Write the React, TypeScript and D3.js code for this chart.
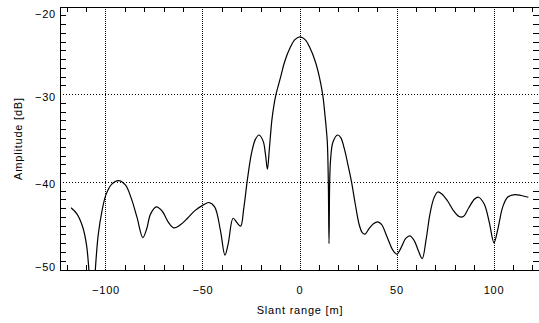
import * as d3 from 'd3';

// Slant range [m] and amplitude [dB] samples of the impulse response
const slantRange = [
  -118, -115, -112, -110, -108.8, -107.5, -106.5, -105.5, -104, -102, -100, -97, -93.5, -90, -87, -84, -81,
  -79, -77, -74, -71, -68, -65, -62, -58, -54, -50, -47, -44, -41, -38.7, -37, -34.5, -32.5, -30.6, -29,
  -27, -25, -23, -21.1, -19, -17.8, -16.8, -15.8, -14.5, -13.5, -12.4, -10, -8, -5, -2.5, 0, 2.5, 5, 8, 10,
  11.7, 12.5, 13.3, 14.1, 14.6, 14.95, 15.3, 15.8, 17, 19.4, 21, 23, 25, 26.6, 28.5, 30.6, 32, 33.5, 35.5,
  38, 40, 42, 45, 48, 50, 52, 54.5, 56.7, 59, 61, 63, 65, 67, 69, 71, 73, 76, 79, 82, 84.2, 87, 90, 92, 95,
  97.5, 100, 102, 104.5, 107, 110.8, 114, 117.7,
];
const amplitude = [
  -42.9, -43.6, -45.1, -47.2, -50, -54, -54, -50, -46, -43.2, -41.4, -40.2, -39.8, -40.3, -41.8, -44, -46.3,
  -45.3, -43.6, -42.8, -43.3, -44.5, -45.2, -44.9, -44.1, -43.2, -42.6, -42.3, -42.8, -45.5, -48.3, -47, -44.1,
  -44.6, -45, -43, -39.5, -36.7, -35.1, -34.6, -35.3, -36.8, -38.5, -36.2, -32.9, -31.3, -30, -28, -26.3, -24.6,
  -23.7, -23.4, -23.7, -24.6, -26.3, -28, -30, -31.5, -33.3, -35.5, -40, -47, -40, -37.3, -35.4, -34.6, -34.9,
  -36.3, -38.3, -40, -42.5, -44.9, -45.7, -45.9, -45.3, -44.7, -44.5, -44.8, -46.3, -47.8, -48.2, -47.5, -46.4,
  -46.1, -46.7, -47.8, -48.7, -46.5, -43.6, -41.8, -41.1, -41.3, -42.1, -43.2, -43.9, -43.9, -42.9, -41.9,
  -41.7, -42.5, -44.5, -46.9, -45.3, -42.8, -41.7, -41.4, -41.5, -41.7,
];

const xGrid = [-100, -50, 0, 50, 100];
const xTickLabels = ['\u2212100', '\u221250', '0', '50', '100'];
const yTicks = [-50, -40, -30, -20];
const yTickLabels = ['\u221250', '\u221240', '\u221230', '\u221220'];
const yGrid = [-40, -30];

const W = 539;
const H = 323;
const m = { left: 60, right: 540, top: 7, bottom: 270 };
const font = '"Liberation Sans", Arial, sans-serif';

export default function App() {
  const x = d3.scaleLinear().domain([-123.7, 123.7]).range([m.left, m.right]);
  const y = d3.scaleLinear().domain([-50, -20]).range([m.bottom, m.top]);

  const pts = slantRange.map((r, i) => [r, amplitude[i]] as [number, number]);
  const line = d3
    .line<[number, number]>()
    .x(d => x(d[0]))
    .y(d => y(d[1]))
    .curve(d3.curveCatmullRom.alpha(0.5));

  const xMinor = d3.range(-120, 121, 10).filter(v => v % 50 !== 0);
  const yMinor = d3.range(-49, -20, 1).filter(v => v % 10 !== 0);

  return (
    <div style={{ position: 'absolute', left: 0, top: 0, width: W, height: H, background: '#fff' }}>
      <svg width={W} height={H} style={{ display: 'block' }}>
        <defs>
          <clipPath id="plot">
            <rect x={m.left} y={m.top} width={m.right - m.left} height={m.bottom - m.top} />
          </clipPath>
        </defs>

        {/* grid */}
        {xGrid.map(v => (
          <line key={'gx' + v} x1={x(v)} x2={x(v)} y1={m.top} y2={m.bottom}
            stroke="#000" strokeWidth={1} strokeDasharray="1,1" shapeRendering="crispEdges" />
        ))}
        {yGrid.map(v => (
          <line key={'gy' + v} x1={m.left} x2={m.right} y1={y(v)} y2={y(v)}
            stroke="#000" strokeWidth={1} strokeDasharray="1,2" shapeRendering="crispEdges" />
        ))}

        {/* minor ticks */}
        {xMinor.map(v => (
          <g key={'tx' + v}>
            <line x1={x(v)} x2={x(v)} y1={m.bottom} y2={m.bottom - 5} stroke="#000" shapeRendering="crispEdges" />
            <line x1={x(v)} x2={x(v)} y1={m.top} y2={m.top + 5} stroke="#000" shapeRendering="crispEdges" />
          </g>
        ))}
        {yMinor.map(v => (
          <g key={'ty' + v}>
            <line x1={m.left} x2={m.left + 6} y1={y(v)} y2={y(v)} stroke="#000" shapeRendering="crispEdges" />
            <line x1={m.right} x2={m.right - 7} y1={y(v)} y2={y(v)} stroke="#000" shapeRendering="crispEdges" />
          </g>
        ))}

        {/* frame */}
        <rect x={m.left} y={m.top} width={m.right - m.left} height={m.bottom - m.top}
          fill="none" stroke="#000" strokeWidth={1} shapeRendering="crispEdges" />

        {/* curve */}
        <path d={line(pts) ?? ''} fill="none" stroke="#000" strokeWidth={1.2} clipPath="url(#plot)" />

        {/* labels */}
        <g fontFamily={font} fontSize={11} fill="#000" letterSpacing={0.8}>
          {xGrid.map((v, i) => (
            <text key={'lx' + v} x={x(v)} y={294} textAnchor="middle">{xTickLabels[i]}</text>
          ))}
          {yTicks.map((v, i) => (
            <text key={'ly' + v} x={56} y={Math.min(Math.max(y(v) + 2, m.top + 7), m.bottom - 3) + 4}
              textAnchor="end">{yTickLabels[i]}</text>
          ))}
          <text x={(m.left + m.right) / 2} y={314} textAnchor="middle">Slant range [m]</text>
          <text transform={`translate(22,${(m.top + m.bottom) / 2}) rotate(-90)`} textAnchor="middle">
            Amplitude [dB]
          </text>
        </g>
      </svg>
    </div>
  );
}
